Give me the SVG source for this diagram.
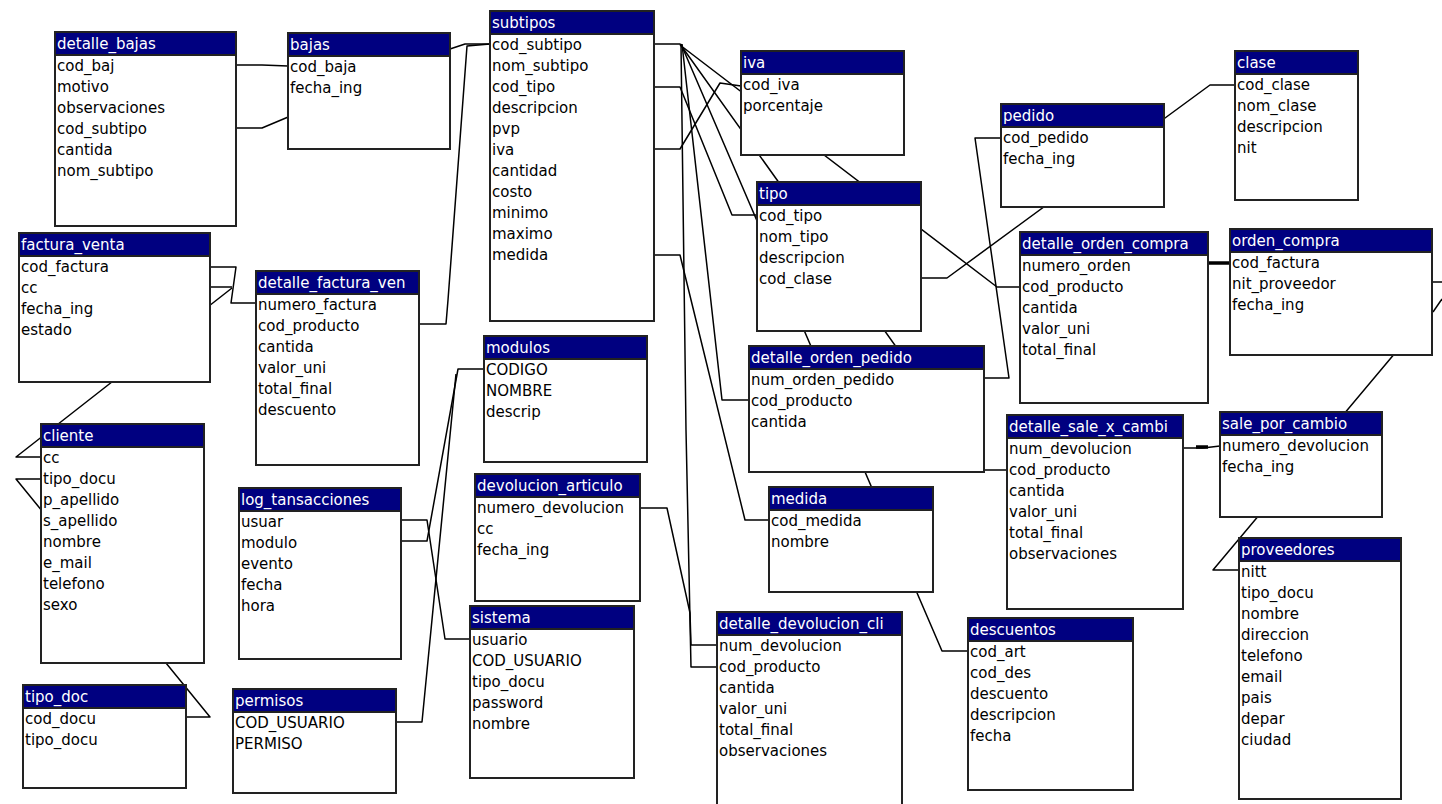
<svg xmlns="http://www.w3.org/2000/svg" width="1442" height="804" viewBox="0 0 1442 804">
<style>
.b{fill:#fff;stroke:#222;stroke-width:2}
.h{fill:#000080;stroke:#222;stroke-width:2}
text{font-family:"DejaVu Sans","Liberation Sans",sans-serif;font-size:15px}
.n{fill:#fff}
.f{fill:#000}
.c{fill:none;stroke:#000;stroke-width:1.5;stroke-linejoin:round}
.k{fill:none;stroke:#000;stroke-width:3.5}
</style>
<rect width="1442" height="804" fill="#fff"/>
<g id="connectors">
<polyline class="c" points="236,65 262,65 288,66"/>
<polyline class="c" points="236,128 262,128 450,49 465,44 490,44"/>
<polyline class="c" points="419,324 446,324 448,300 467,46 490,44"/>
<polyline class="c" points="654,44 680,44 984,470 1007,470"/>
<polyline class="c" points="680,45 997,287 1020,287"/>
<polyline class="c" points="681,44 942,651 968,651"/>
<polyline class="c" points="682,44 722,400 749,400"/>
<polyline class="c" points="681,44 686,430 691,667 717,667"/>
<polyline class="c" points="654,87 680,87 732,215 757,215"/>
<polyline class="c" points="654,149 680,149 720,83 741,86"/>
<polyline class="c" points="654,255 680,255 745,520 769,520"/>
<polyline class="c" points="921,278 947,278 1210,85 1235,85"/>
<polyline class="c" points="1001,138 975,138 1009,378 984,378"/>
<polyline class="k" points="1208,263 1230,263"/>
<polyline class="c" points="1406,340 1213,570 1239,570"/>
<polyline class="c" points="1183,448 1203,448 1220,446"/>
<polyline class="k" points="1196,447 1208,447"/>
<polyline class="c" points="1432,282 1442,282"/>
<polyline class="c" points="1433,312 1442,299"/>
<polyline class="c" points="210,267 236,267 231,303 256,303"/>
<polyline class="c" points="210,287 232,287"/>
<polyline class="c" points="41,457 16,457 232,288"/>
<polyline class="c" points="41,479 16,479 210,717 186,717"/>
<polyline class="c" points="401,520 427,520 445,639 470,639"/>
<polyline class="c" points="401,541 427,541 458,369 484,369"/>
<polyline class="c" points="396,722 422,722 456,374"/>
<polyline class="c" points="640,508 667,508 690,613 691,645 717,645"/>
</g>
<g id="detalle_bajas"><rect class="b" x="55" y="32" width="181" height="194"/><rect class="h" x="55" y="32" width="181" height="23"/><text class="n" x="57" y="49">detalle_bajas</text><text class="f" y="71"><tspan x="57">cod_baj</tspan><tspan x="57" dy="21">motivo</tspan><tspan x="57" dy="21">observaciones</tspan><tspan x="57" dy="21">cod_subtipo</tspan><tspan x="57" dy="21">cantida</tspan><tspan x="57" dy="21">nom_subtipo</tspan></text></g>
<g id="bajas"><rect class="b" x="288" y="33" width="162" height="116"/><rect class="h" x="288" y="33" width="162" height="23"/><text class="n" x="290" y="50">bajas</text><text class="f" y="72"><tspan x="290">cod_baja</tspan><tspan x="290" dy="21">fecha_ing</tspan></text></g>
<g id="subtipos"><rect class="b" x="490" y="11" width="164" height="310"/><rect class="h" x="490" y="11" width="164" height="23"/><text class="n" x="492" y="28">subtipos</text><text class="f" y="50"><tspan x="492">cod_subtipo</tspan><tspan x="492" dy="21">nom_subtipo</tspan><tspan x="492" dy="21">cod_tipo</tspan><tspan x="492" dy="21">descripcion</tspan><tspan x="492" dy="21">pvp</tspan><tspan x="492" dy="21">iva</tspan><tspan x="492" dy="21">cantidad</tspan><tspan x="492" dy="21">costo</tspan><tspan x="492" dy="21">minimo</tspan><tspan x="492" dy="21">maximo</tspan><tspan x="492" dy="21">medida</tspan></text></g>
<g id="iva"><rect class="b" x="741" y="51" width="163" height="104"/><rect class="h" x="741" y="51" width="163" height="23"/><text class="n" x="743" y="68">iva</text><text class="f" y="90"><tspan x="743">cod_iva</tspan><tspan x="743" dy="21">porcentaje</tspan></text></g>
<g id="tipo"><rect class="b" x="757" y="182" width="164" height="149"/><rect class="h" x="757" y="182" width="164" height="23"/><text class="n" x="759" y="199">tipo</text><text class="f" y="221"><tspan x="759">cod_tipo</tspan><tspan x="759" dy="21">nom_tipo</tspan><tspan x="759" dy="21">descripcion</tspan><tspan x="759" dy="21">cod_clase</tspan></text></g>
<g id="pedido"><rect class="b" x="1001" y="104" width="163" height="103"/><rect class="h" x="1001" y="104" width="163" height="23"/><text class="n" x="1003" y="121">pedido</text><text class="f" y="143"><tspan x="1003">cod_pedido</tspan><tspan x="1003" dy="21">fecha_ing</tspan></text></g>
<g id="clase"><rect class="b" x="1235" y="51" width="123" height="149"/><rect class="h" x="1235" y="51" width="123" height="23"/><text class="n" x="1237" y="68">clase</text><text class="f" y="90"><tspan x="1237">cod_clase</tspan><tspan x="1237" dy="21">nom_clase</tspan><tspan x="1237" dy="21">descripcion</tspan><tspan x="1237" dy="21">nit</tspan></text></g>
<g id="detalle_orden_compra"><rect class="b" x="1020" y="232" width="188" height="171"/><rect class="h" x="1020" y="232" width="188" height="23"/><text class="n" x="1022" y="249">detalle_orden_compra</text><text class="f" y="271"><tspan x="1022">numero_orden</tspan><tspan x="1022" dy="21">cod_producto</tspan><tspan x="1022" dy="21">cantida</tspan><tspan x="1022" dy="21">valor_uni</tspan><tspan x="1022" dy="21">total_final</tspan></text></g>
<g id="orden_compra"><rect class="b" x="1230" y="229" width="202" height="126"/><rect class="h" x="1230" y="229" width="202" height="23"/><text class="n" x="1232" y="246">orden_compra</text><text class="f" y="268"><tspan x="1232">cod_factura</tspan><tspan x="1232" dy="21">nit_proveedor</tspan><tspan x="1232" dy="21">fecha_ing</tspan></text></g>
<g id="factura_venta"><rect class="b" x="19" y="233" width="191" height="149"/><rect class="h" x="19" y="233" width="191" height="23"/><text class="n" x="21" y="250">factura_venta</text><text class="f" y="272"><tspan x="21">cod_factura</tspan><tspan x="21" dy="21">cc</tspan><tspan x="21" dy="21">fecha_ing</tspan><tspan x="21" dy="21">estado</tspan></text></g>
<g id="detalle_factura_ven"><rect class="b" x="256" y="271" width="163" height="194"/><rect class="h" x="256" y="271" width="163" height="23"/><text class="n" x="258" y="288">detalle_factura_ven</text><text class="f" y="310"><tspan x="258">numero_factura</tspan><tspan x="258" dy="21">cod_producto</tspan><tspan x="258" dy="21">cantida</tspan><tspan x="258" dy="21">valor_uni</tspan><tspan x="258" dy="21">total_final</tspan><tspan x="258" dy="21">descuento</tspan></text></g>
<g id="cliente"><rect class="b" x="41" y="424" width="163" height="239"/><rect class="h" x="41" y="424" width="163" height="23"/><text class="n" x="43" y="441">cliente</text><text class="f" y="463"><tspan x="43">cc</tspan><tspan x="43" dy="21">tipo_docu</tspan><tspan x="43" dy="21">p_apellido</tspan><tspan x="43" dy="21">s_apellido</tspan><tspan x="43" dy="21">nombre</tspan><tspan x="43" dy="21">e_mail</tspan><tspan x="43" dy="21">telefono</tspan><tspan x="43" dy="21">sexo</tspan></text></g>
<g id="tipo_doc"><rect class="b" x="23" y="685" width="163" height="103"/><rect class="h" x="23" y="685" width="163" height="23"/><text class="n" x="25" y="702">tipo_doc</text><text class="f" y="724"><tspan x="25">cod_docu</tspan><tspan x="25" dy="21">tipo_docu</tspan></text></g>
<g id="log_tansacciones"><rect class="b" x="239" y="488" width="162" height="171"/><rect class="h" x="239" y="488" width="162" height="23"/><text class="n" x="241" y="505">log_tansacciones</text><text class="f" y="527"><tspan x="241">usuar</tspan><tspan x="241" dy="21">modulo</tspan><tspan x="241" dy="21">evento</tspan><tspan x="241" dy="21">fecha</tspan><tspan x="241" dy="21">hora</tspan></text></g>
<g id="permisos"><rect class="b" x="233" y="689" width="163" height="104"/><rect class="h" x="233" y="689" width="163" height="23"/><text class="n" x="235" y="706">permisos</text><text class="f" y="728"><tspan x="235">COD_USUARIO</tspan><tspan x="235" dy="21">PERMISO</tspan></text></g>
<g id="modulos"><rect class="b" x="484" y="336" width="163" height="126"/><rect class="h" x="484" y="336" width="163" height="23"/><text class="n" x="486" y="353">modulos</text><text class="f" y="375"><tspan x="486">CODIGO</tspan><tspan x="486" dy="21">NOMBRE</tspan><tspan x="486" dy="21">descrip</tspan></text></g>
<g id="devolucion_articulo"><rect class="b" x="475" y="474" width="165" height="127"/><rect class="h" x="475" y="474" width="165" height="23"/><text class="n" x="477" y="491">devolucion_articulo</text><text class="f" y="513"><tspan x="477">numero_devolucion</tspan><tspan x="477" dy="21">cc</tspan><tspan x="477" dy="21">fecha_ing</tspan></text></g>
<g id="sistema"><rect class="b" x="470" y="606" width="164" height="172"/><rect class="h" x="470" y="606" width="164" height="23"/><text class="n" x="472" y="623">sistema</text><text class="f" y="645"><tspan x="472">usuario</tspan><tspan x="472" dy="21">COD_USUARIO</tspan><tspan x="472" dy="21">tipo_docu</tspan><tspan x="472" dy="21">password</tspan><tspan x="472" dy="21">nombre</tspan></text></g>
<g id="detalle_orden_pedido"><rect class="b" x="749" y="346" width="235" height="126"/><rect class="h" x="749" y="346" width="235" height="23"/><text class="n" x="751" y="363">detalle_orden_pedido</text><text class="f" y="385"><tspan x="751">num_orden_pedido</tspan><tspan x="751" dy="21">cod_producto</tspan><tspan x="751" dy="21">cantida</tspan></text></g>
<g id="medida"><rect class="b" x="769" y="487" width="164" height="105"/><rect class="h" x="769" y="487" width="164" height="23"/><text class="n" x="771" y="504">medida</text><text class="f" y="526"><tspan x="771">cod_medida</tspan><tspan x="771" dy="21">nombre</tspan></text></g>
<g id="detalle_sale_x_cambi"><rect class="b" x="1007" y="415" width="176" height="194"/><rect class="h" x="1007" y="415" width="176" height="23"/><text class="n" x="1009" y="432">detalle_sale_x_cambi</text><text class="f" y="454"><tspan x="1009">num_devolucion</tspan><tspan x="1009" dy="21">cod_producto</tspan><tspan x="1009" dy="21">cantida</tspan><tspan x="1009" dy="21">valor_uni</tspan><tspan x="1009" dy="21">total_final</tspan><tspan x="1009" dy="21">observaciones</tspan></text></g>
<g id="sale_por_cambio"><rect class="b" x="1220" y="412" width="162" height="105"/><rect class="h" x="1220" y="412" width="162" height="23"/><text class="n" x="1222" y="429">sale_por_cambio</text><text class="f" y="451"><tspan x="1222">numero_devolucion</tspan><tspan x="1222" dy="21">fecha_ing</tspan></text></g>
<g id="proveedores"><rect class="b" x="1239" y="538" width="162" height="261"/><rect class="h" x="1239" y="538" width="162" height="23"/><text class="n" x="1241" y="555">proveedores</text><text class="f" y="577"><tspan x="1241">nitt</tspan><tspan x="1241" dy="21">tipo_docu</tspan><tspan x="1241" dy="21">nombre</tspan><tspan x="1241" dy="21">direccion</tspan><tspan x="1241" dy="21">telefono</tspan><tspan x="1241" dy="21">email</tspan><tspan x="1241" dy="21">pais</tspan><tspan x="1241" dy="21">depar</tspan><tspan x="1241" dy="21">ciudad</tspan></text></g>
<g id="detalle_devolucion_cli"><rect class="b" x="717" y="612" width="185" height="200"/><rect class="h" x="717" y="612" width="185" height="23"/><text class="n" x="719" y="629">detalle_devolucion_cli</text><text class="f" y="651"><tspan x="719">num_devolucion</tspan><tspan x="719" dy="21">cod_producto</tspan><tspan x="719" dy="21">cantida</tspan><tspan x="719" dy="21">valor_uni</tspan><tspan x="719" dy="21">total_final</tspan><tspan x="719" dy="21">observaciones</tspan></text></g>
<g id="descuentos"><rect class="b" x="968" y="618" width="165" height="172"/><rect class="h" x="968" y="618" width="165" height="23"/><text class="n" x="970" y="635">descuentos</text><text class="f" y="657"><tspan x="970">cod_art</tspan><tspan x="970" dy="21">cod_des</tspan><tspan x="970" dy="21">descuento</tspan><tspan x="970" dy="21">descripcion</tspan><tspan x="970" dy="21">fecha</tspan></text></g>
</svg>
